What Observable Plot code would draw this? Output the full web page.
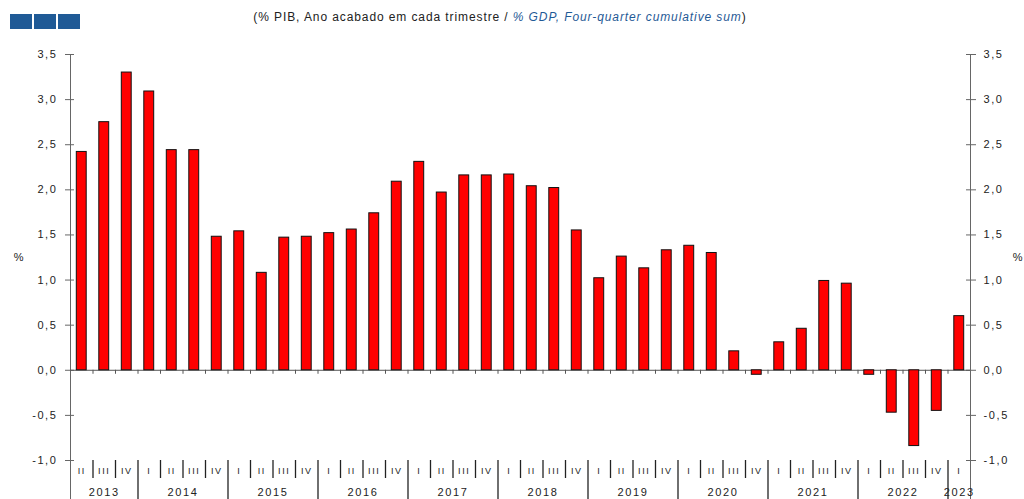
<!DOCTYPE html>
<html>
<head>
<meta charset="utf-8">
<script src="https://cdn.jsdelivr.net/npm/d3@7"></script>
<script src="https://cdn.jsdelivr.net/npm/@observablehq/plot@0.6"></script>
<style>
  body { margin: 0; background: #fff; font-family: "Liberation Sans", Arial, sans-serif; }
  #wrap { position: relative; width: 1024px; height: 499px; overflow: hidden; background: #fff; }
  #logo { position: absolute; left: 10px; top: 14px; display: flex; gap: 2px; }
  #logo div { width: 22px; height: 15px; background: #1f5a96; }
  #title { position: absolute; top: 10px; left: 0; width: 1000px; text-align: center; font-size: 12px; letter-spacing: 0.9px; color: #222; white-space: nowrap; }
  #title i { color: #1f5a96; }
  #chart { position: absolute; left: 0; top: 0; }
  #chart svg text { letter-spacing: 1.6px; }
</style>
</head>
<body>
<div id="wrap">
  <div id="chart"></div>
  <div id="logo"><div></div><div></div><div></div></div>
  <div id="title">(% PIB, Ano acabado em cada trimestre / <i>% GDP, Four-quarter cumulative sum</i>)</div>
</div>
<script>
const startYear = 2013;
const startQuarter = 2;
const romans = ["I", "II", "III", "IV"];
const values = [
  2.42, 2.75, 3.30,
  3.09, 2.44, 2.44, 1.48,
  1.54, 1.08, 1.47, 1.48,
  1.52, 1.56, 1.74, 2.09,
  2.31, 1.97, 2.16, 2.16,
  2.17, 2.04, 2.02, 1.55,
  1.02, 1.26, 1.13, 1.33,
  1.38, 1.30, 0.21, -0.05,
  0.31, 0.46, 0.99, 0.96,
  -0.05, -0.47, -0.84, -0.45,
  0.60
];
const yTicks = [-1, -0.5, 0, 0.5, 1, 1.5, 2, 2.5, 3, 3.5];
const yUnit = "%";

const data = values.map((v, i) => {
  const k = startQuarter - 1 + i;
  return { i, v, q: romans[k % 4], year: startYear + Math.floor(k / 4) };
});
const years = d3.groups(data, d => d.year).map(([year, ds]) => ({
  year, x: (ds[0].i + ds[ds.length - 1].i + 1) / 2
}));
const bounds = d3.range(1, values.length);
const yearBounds = bounds.filter(k => data[k].q === "I");
const qBounds = bounds.filter(k => data[k].q !== "I");
const n = values.length;
const fmt = d => d.toFixed(1).replace(".", ",");
const yMin = d3.min(yTicks), yMax = d3.max(yTicks);

const chart = Plot.plot({
  width: 1024,
  height: 499,
  marginLeft: 70,
  marginRight: 54,
  marginTop: 54,
  marginBottom: 39,
  x: { domain: [0, n], axis: null, label: null },
  y: { domain: [yMin, yMax], axis: null, label: null },
  style: { fontFamily: "Liberation Sans, Arial, sans-serif", fontSize: "11px", color: "#222", background: "transparent", overflow: "visible" },
  marks: [
    // axis lines
    Plot.ruleX([0, n], { y1: yMax, y2: yMin, insetBottom: -40, stroke: "#666" }),
    // left axis
    Plot.axisY(yTicks, { anchor: "left", label: null, tickSize: 5, tickPadding: 8, tickFormat: fmt, stroke: "#666", fill: "#222", fontSize: 11 }),
    Plot.ruleY(yTicks, { y: d => d, x1: 0, x2: 0, insetRight: -4, stroke: "#666" }),
    // right axis
    Plot.axisY(yTicks, { anchor: "right", label: null, tickSize: 5, tickPadding: 8, tickFormat: fmt, stroke: "#666", fill: "#222", fontSize: 11 }),
    Plot.ruleY(yTicks, { y: d => d, x1: n, x2: n, insetLeft: -4, stroke: "#666" }),
    // unit labels
    Plot.text([yUnit], { frameAnchor: "left", dx: -51, textAnchor: "middle", text: d => d, fontSize: 11, fill: "#222" }),
    Plot.text([yUnit], { frameAnchor: "right", dx: 48, textAnchor: "middle", text: d => d, fontSize: 11, fill: "#222" }),
    // zero line + ticks
    Plot.ruleY([0], { stroke: "#555" }),
    Plot.ruleX(bounds, { x: d => d, y1: 0, y2: 0, insetBottom: -4, stroke: "#555" }),
    // bars
    Plot.rect(data, { x1: d => d.i + 0.28, x2: d => d.i + 0.72, y1: 0, y2: "v", fill: "#ff0000", stroke: "#111", strokeWidth: 1 }),
    // category separators
    Plot.ruleX(qBounds, { x: d => d, y1: yMin, y2: yMin, insetBottom: -18, stroke: "#222", strokeWidth: 1.3 }),
    Plot.ruleX(yearBounds, { x: d => d, y1: yMin, y2: yMin, insetBottom: -40, stroke: "#222", strokeWidth: 1.3 }),
    // category labels
    Plot.text(data, { x: d => d.i + 0.5, y: yMin, dy: 11, text: "q", fontSize: 9, fill: "#222" }),
    Plot.text(years, { x: "x", y: yMin, dy: 32, text: d => String(d.year), fontSize: 11, fill: "#222" })
  ]
});
document.getElementById("chart").appendChild(chart);
</script>
</body>
</html>
